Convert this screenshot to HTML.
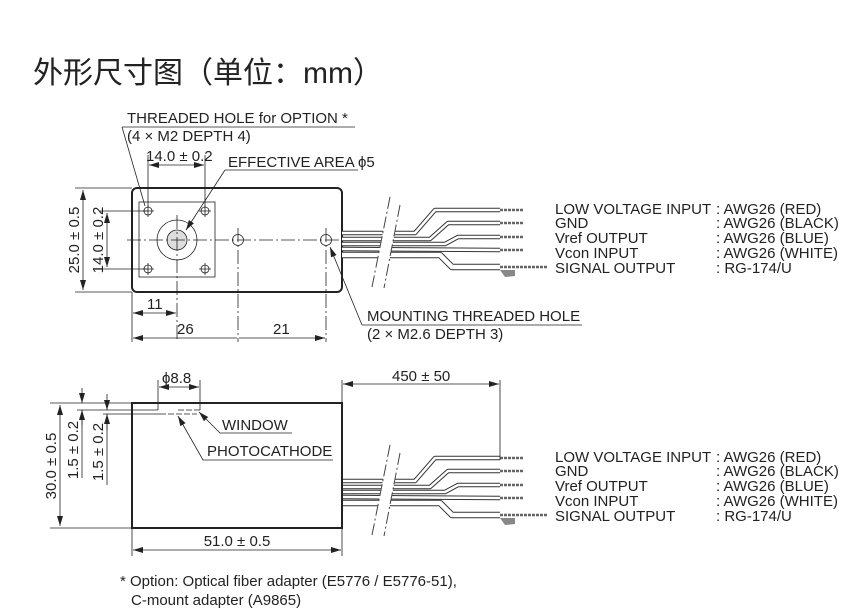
<!DOCTYPE html>
<html><head><meta charset="utf-8"><style>
html,body{margin:0;padding:0;background:#fff;}
svg{display:block;}
text{font-family:"Liberation Sans","Noto Sans CJK SC",sans-serif;fill:#222;}
</style></head><body>
<svg width="848" height="616" viewBox="0 0 848 616" xmlns="http://www.w3.org/2000/svg">
<defs>
<marker id="a" viewBox="0 0 10 6" refX="10" refY="3" markerWidth="10" markerHeight="6" orient="auto-start-reverse" markerUnits="userSpaceOnUse"><path d="M0 0L10 3L0 6z" fill="#222"/></marker>
<g id="wires">
  <g fill="none" stroke-linejoin="round">
    <path d="M342 233 L415 233 L435 210 L500 210 M342 239 L430 239 L448 223 L500 223 M342 244 L445 244 L458 237 L500 237 M342 249 L500 250" stroke="#333" stroke-width="4.5"/>
    <path d="M342 233 L415 233 L435 210 L500 210 M342 239 L430 239 L448 223 L500 223 M342 244 L445 244 L458 237 L500 237 M342 249 L500 250" stroke="#fff" stroke-width="2.5"/>
    <path d="M342 255 L440 255 L452 267 L500 267" stroke="#333" stroke-width="6.5"/>
    <path d="M342 255 L440 255 L452 267 L500 267" stroke="#fff" stroke-width="4.5"/>
    <path d="M500 210 H523 M500 223 H523 M500 237 H523 M500 250 H523 M500 267 H548" stroke="#666" stroke-width="2.5" stroke-dasharray="3 1"/>
    <path d="M500 270 L515 270 L515 276 L505 277z" fill="#888"/>
  </g>
  <polygon points="390,197 400,205 384,288 372,287" fill="#fff"/>
  <path d="M390 197 L372 287 M400 205 L384 288" stroke="#444" stroke-width="1" stroke-dasharray="12 3 2 3"/>
</g>
</defs>
<text x="33" y="83" font-size="30">外形尺寸图（单位：mm）</text>

<!-- TOP VIEW -->
<g stroke="#222" fill="none">
  <rect x="132" y="188" width="210" height="104" rx="5" stroke-width="2"/>
  <rect x="139" y="202" width="76" height="75" stroke-width="0.8"/>
  <g stroke-width="0.8">
    <circle cx="148" cy="211" r="4"/><circle cx="205" cy="211" r="4"/>
    <circle cx="148" cy="269" r="4"/><circle cx="205" cy="269" r="4"/>
    <path d="M142 211h12M148 205v12M199 211h12M205 205v12M142 269h12M148 263v12M199 269h12M205 263v12"/>
    <circle cx="177" cy="240" r="20"/>
    <circle cx="177" cy="240" r="10" fill="#ddd"/>
    <circle cx="238" cy="240" r="5.5"/><circle cx="326" cy="240" r="5.5"/>
    <path d="M127 240 H348" stroke-dasharray="14 3 2 3"/>
    <path d="M177 215 V342 M238 228 V342 M326 228 V342" stroke-dasharray="14 3 2 3"/>
    <path d="M132 292 V342"/>
    <path d="M75 188 H132 M75 292 H132"/>
    <path d="M83 190 V290" marker-start="url(#a)" marker-end="url(#a)"/>
    <path d="M100 211 H148 M100 269 H148"/>
    <path d="M107 213 V267" marker-start="url(#a)" marker-end="url(#a)"/>
    <path d="M148 155 V208 M205 155 V208"/>
    <path d="M149 165 H204" marker-start="url(#a)" marker-end="url(#a)"/>
    <path d="M133 313 H176" marker-start="url(#a)" marker-end="url(#a)"/>
    <path d="M133 338 H237 M239 338 H325" marker-start="url(#a)" marker-end="url(#a)"/>
    <path d="M122 127 H355 M122 127 L145 206" />
    <path d="M225 170 H358 M225 170 L186 230" marker-end="url(#a)"/>
    <path d="M362 325 H582 M362 325 L330 247" marker-end="url(#a)"/>
  </g>
</g>
<g font-size="15">
<text x="127" y="123">THREADED HOLE for OPTION *</text>
<text x="127" y="141">(4 × M2 DEPTH 4)</text>
<text x="146" y="161">14.0 ± 0.2</text>
<text x="228" y="167">EFFECTIVE AREA ϕ5</text>
<text x="147" y="309">11</text>
<text x="177" y="334">26</text>
<text x="273" y="334">21</text>
<text x="367" y="321">MOUNTING THREADED HOLE</text>
<text x="367" y="339">(2 × M2.6 DEPTH 3)</text>
<text transform="translate(79,240) rotate(-90)" text-anchor="middle">25.0 ± 0.5</text>
<text transform="translate(103,240) rotate(-90)" text-anchor="middle">14.0 ± 0.2</text>
</g>

<use href="#wires"/>
<g font-size="15">
<text x="555" y="214">LOW VOLTAGE INPUT</text><text x="716" y="214">: AWG26 (RED)</text>
<text x="555" y="228">GND</text><text x="716" y="228">: AWG26 (BLACK)</text>
<text x="555" y="243">Vref OUTPUT</text><text x="716" y="243">: AWG26 (BLUE)</text>
<text x="555" y="258">Vcon INPUT</text><text x="716" y="258">: AWG26 (WHITE)</text>
<text x="555" y="273">SIGNAL OUTPUT</text><text x="716" y="273">: RG-174/U</text>
</g>

<!-- SIDE VIEW -->
<g transform="translate(0,248)"><use href="#wires"/></g>
<g stroke="#222" fill="none">
  <rect x="132" y="403" width="210" height="125" stroke-width="2"/>
  <g stroke-width="0.8">
    <path d="M178 410 H200 M160 414 H197" stroke-dasharray="6 2"/>
    <path d="M158 380 V410 M200 380 V410"/>
    <path d="M159 387 H199" marker-start="url(#a)" marker-end="url(#a)"/>
    <path d="M342 380 V403 M500 380 V460"/>
    <path d="M343 384 H499" marker-start="url(#a)" marker-end="url(#a)"/>
    <path d="M50 403 H132 M50 528 H132 M77 410 H158 M103 414 H160"/>
    <path d="M60 405 V526" marker-start="url(#a)" marker-end="url(#a)"/>
    <path d="M82 388 V403" marker-end="url(#a)"/>
    <path d="M82 425 V410" marker-end="url(#a)"/>
    <path d="M82 410 V478"/>
    <path d="M107 394 V410" marker-end="url(#a)"/>
    <path d="M107 430 V414" marker-end="url(#a)"/>
    <path d="M107 414 V485"/>
    <path d="M132 528 V556 M342 528 V556"/>
    <path d="M133 550 H341" marker-start="url(#a)" marker-end="url(#a)"/>
    <path d="M292 433 H220 L199 412" marker-end="url(#a)"/>
    <path d="M333 460 H203 L178 416" marker-end="url(#a)"/>
  </g>
</g>
<g font-size="15">
<text x="162" y="383">ϕ8.8</text>
<text x="392" y="381">450 ± 50</text>
<text x="222" y="430">WINDOW</text>
<text x="207" y="456">PHOTOCATHODE</text>
<text x="237" y="546" text-anchor="middle">51.0 ± 0.5</text>
<text transform="translate(56,466) rotate(-90)" text-anchor="middle">30.0 ± 0.5</text>
<text transform="translate(78,450) rotate(-90)" text-anchor="middle">1.5 ± 0.2</text>
<text transform="translate(103,452) rotate(-90)" text-anchor="middle">1.5 ± 0.2</text>
<text x="555" y="462">LOW VOLTAGE INPUT</text><text x="716" y="462">: AWG26 (RED)</text>
<text x="555" y="476">GND</text><text x="716" y="476">: AWG26 (BLACK)</text>
<text x="555" y="491">Vref OUTPUT</text><text x="716" y="491">: AWG26 (BLUE)</text>
<text x="555" y="506">Vcon INPUT</text><text x="716" y="506">: AWG26 (WHITE)</text>
<text x="555" y="521">SIGNAL OUTPUT</text><text x="716" y="521">: RG-174/U</text>
<text x="120" y="586">* Option: Optical fiber adapter (E5776 / E5776-51),</text>
<text x="131" y="605">C-mount adapter (A9865)</text>
</g>
</svg>
</body></html>
